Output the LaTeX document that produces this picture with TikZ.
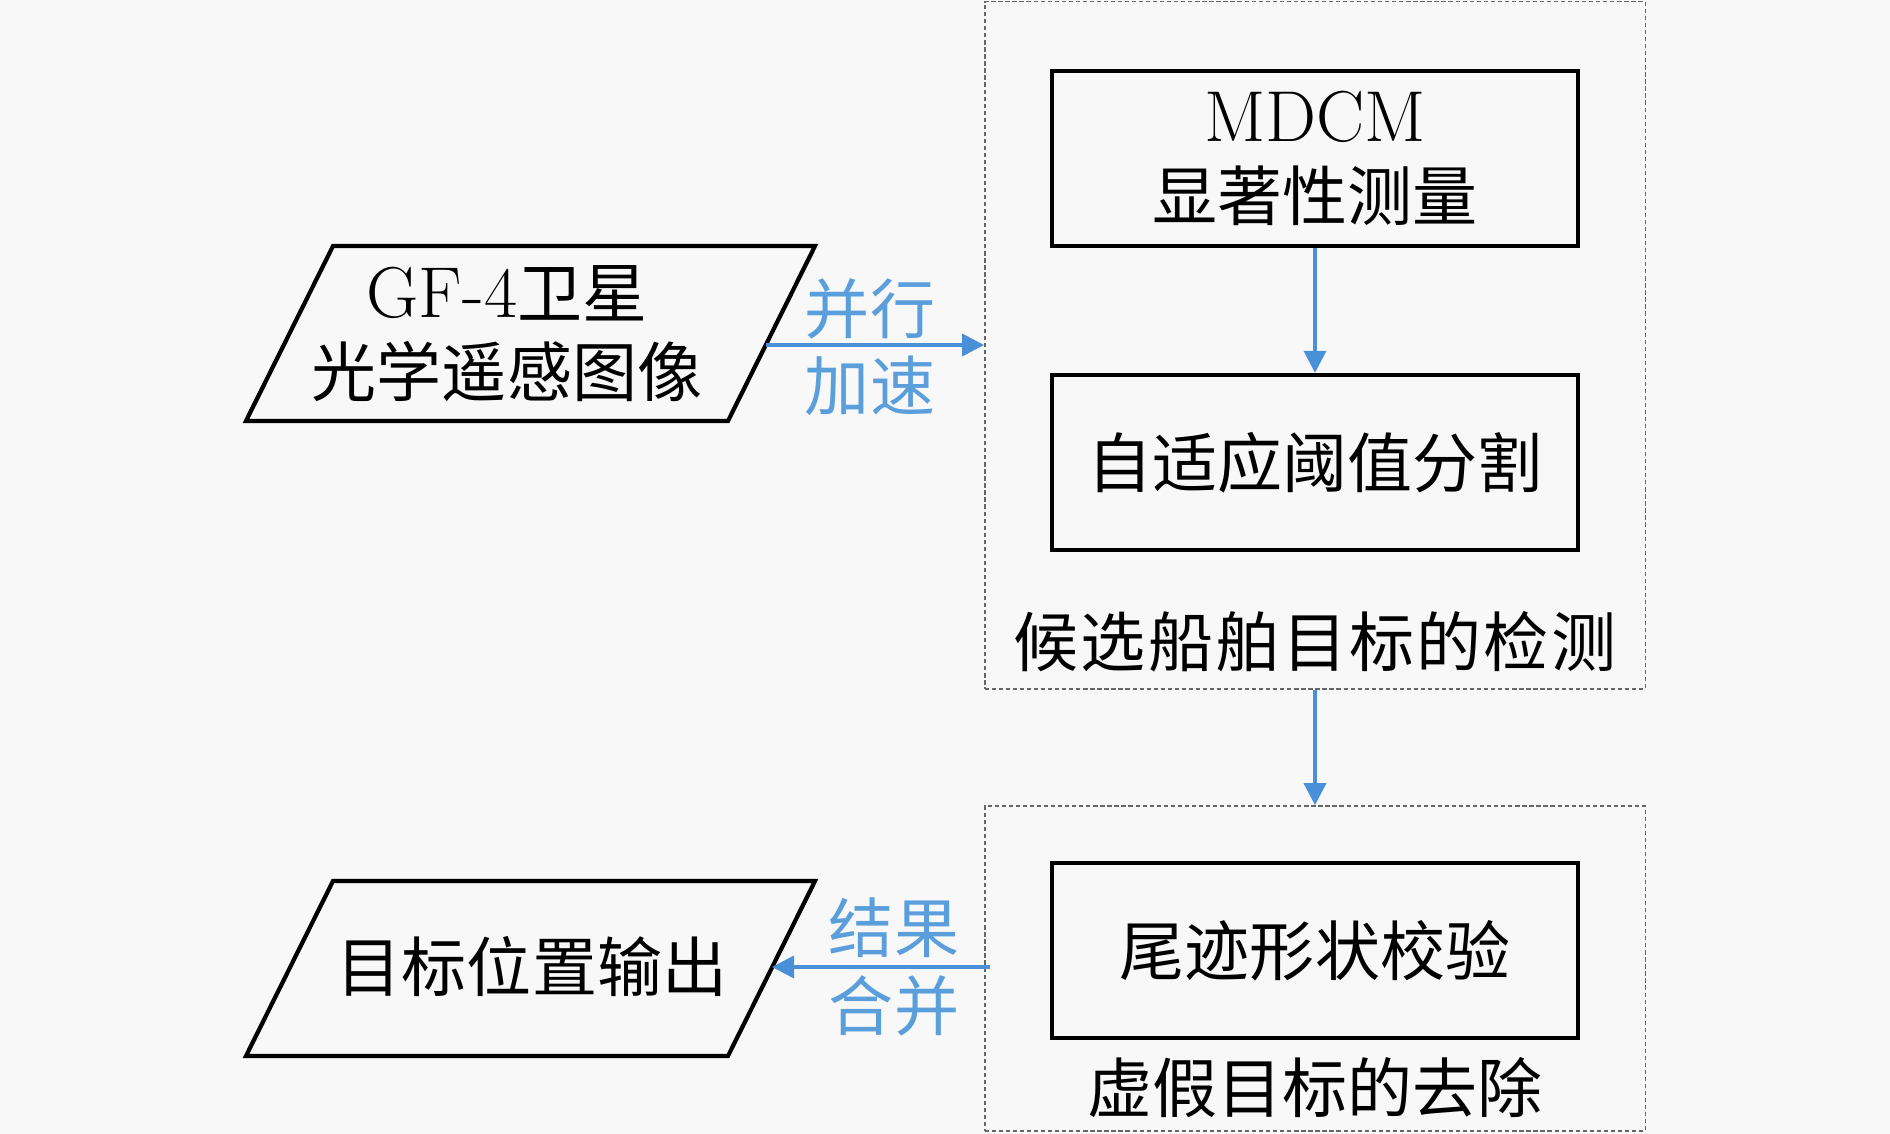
\documentclass[tikz,border=0pt]{standalone}
\usepackage{fontspec}
\newfontfamily\cjk{Noto Sans CJK SC}
\usetikzlibrary{arrows.meta}
\definecolor{bg}{RGB}{248,248,248}
\definecolor{arrblue}{RGB}{74,144,217}
\definecolor{lblblue}{RGB}{91,158,220}
\newcommand{\latn}{\fontsize{20.5}{22.5}\selectfont}
\begin{document}
\begin{tikzpicture}[x=0.01cm,y=-0.01cm,
 every node/.style={font=\fontsize{18.5}{22.5}\selectfont},
 procbox/.style={draw=black,line width=1.2pt,minimum width=5.26cm,minimum height=1.75cm,inner sep=0pt,align=center},
 ioshape/.style={draw=black,line width=1.2pt,line join=miter},
 iotext/.style={inner sep=0pt,align=center},
 group/.style={draw=black!60,line width=0.4pt,dash pattern=on 1.2pt off 0.8pt,inner sep=0pt},
 arr/.style={draw=arrblue,line width=1pt,-{Triangle[length=0.22cm,width=0.22cm]}},
 lbl/.style={text=lblblue,font=\fontsize{18.5}{22.5}\selectfont\cjk}]
\path[fill=bg] (0,0) rectangle (1890,1134);
\useasboundingbox (0,0) rectangle (1890,1134);
% groups
\node[group,minimum width=6.6cm,minimum height=6.87cm] (g1) at (1315,345.5) {};
\node[group,minimum width=6.6cm,minimum height=3.25cm] (g2) at (1315,968.5) {};
% process boxes
\node[procbox] (b1) at (1315,158.5) {{\latn MDCM}\\{\cjk 显著性测量}};
\node[procbox] (b2) at (1315,462.5) {{\cjk 自适应阈值分割}};
\node[procbox] (b3) at (1315,950.5) {{\cjk 尾迹形状校验}};
% group labels
\node (g1lbl) at (1315,642) {\cjk 候\hspace{0.6pt}选\hspace{0.6pt}船\hspace{0.6pt}舶\hspace{0.6pt}目\hspace{0.6pt}标\hspace{0.6pt}的\hspace{0.6pt}检\hspace{0.6pt}测};
\node (g2lbl) at (1315,1088) {\cjk 虚假目标的去除};
% io shapes (parallelograms)
\draw[ioshape] (333,246) -- (815,246) -- (728,421) -- (246,421) -- cycle;
\node[iotext] (p1) at (507,333.5) {{\latn GF-4}{\cjk 卫星}\\{\cjk 光学遥感图像}};
\coordinate (p1r) at (766,345);
\draw[ioshape] (333,881) -- (815,881) -- (728,1056) -- (246,1056) -- cycle;
\node[iotext] (p2) at (532,967) {{\cjk 目标位置输出}};
\coordinate (p2r) at (772,967);
% connectors
\draw[arr] (b1) -- (b2);
\draw[arr] (g1) -- (g2);
\draw[arr] (p1r) -- (p1r -| g1.west);
\coordinate (a2s) at ([xshift=0.06cm]g2.west |- p2r);
\draw[arr] (a2s) -- (p2r);
% connector labels
\node[lbl] (l1) at (870,309) {并行};
\node[lbl] (l2) at (870,386) {加速};
\node[lbl] (l3) at (894,928) {结果};
\node[lbl] (l4) at (894,1006) {合并};
\end{tikzpicture}
\end{document}
